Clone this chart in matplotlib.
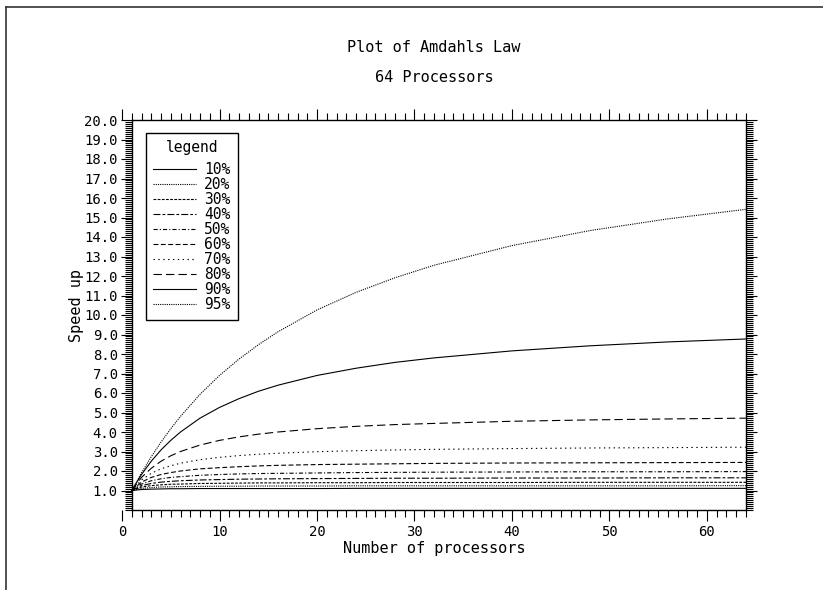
import matplotlib
matplotlib.use("Agg")
import matplotlib.pyplot as plt
from matplotlib.ticker import MultipleLocator, FixedLocator, FixedFormatter
from matplotlib.lines import Line2D

plt.rcParams['font.family'] = ['DejaVu Sans Mono']
plt.rcParams['lines.scale_dashes'] = False

procs = [1, 2, 3, 4, 5, 6, 8, 10, 12, 14, 16, 20, 24, 28, 32, 40, 48, 56, 64]

labels = ["10%", "20%", "30%", "40%", "50%", "60%", "70%", "80%", "90%", "95%"]

s10 = [1.00, 1.05, 1.07, 1.08, 1.09, 1.09, 1.10, 1.10, 1.10, 1.10, 1.10, 1.10, 1.11, 1.11, 1.11, 1.11, 1.11, 1.11, 1.11]
s20 = [1.00, 1.11, 1.15, 1.18, 1.19, 1.20, 1.21, 1.22, 1.22, 1.23, 1.23, 1.23, 1.24, 1.24, 1.24, 1.24, 1.24, 1.24, 1.25]
s30 = [1.00, 1.18, 1.25, 1.29, 1.32, 1.33, 1.36, 1.37, 1.38, 1.39, 1.39, 1.40, 1.40, 1.41, 1.41, 1.41, 1.42, 1.42, 1.42]
s40 = [1.00, 1.25, 1.36, 1.43, 1.47, 1.50, 1.54, 1.56, 1.58, 1.59, 1.60, 1.61, 1.62, 1.63, 1.63, 1.64, 1.64, 1.65, 1.65]
s50 = [1.00, 1.33, 1.50, 1.60, 1.67, 1.71, 1.78, 1.82, 1.85, 1.87, 1.88, 1.90, 1.92, 1.93, 1.94, 1.95, 1.96, 1.96, 1.97]
s60 = [1.00, 1.43, 1.67, 1.82, 1.92, 2.00, 2.11, 2.17, 2.22, 2.26, 2.29, 2.33, 2.35, 2.37, 2.39, 2.41, 2.42, 2.43, 2.44]
s70 = [1.00, 1.54, 1.88, 2.11, 2.27, 2.40, 2.58, 2.70, 2.79, 2.86, 2.91, 2.99, 3.04, 3.08, 3.11, 3.15, 3.18, 3.20, 3.22]
s80 = [1.00, 1.67, 2.14, 2.50, 2.78, 3.00, 3.33, 3.57, 3.75, 3.89, 4.00, 4.17, 4.29, 4.38, 4.44, 4.55, 4.62, 4.67, 4.71]
s90 = [1.00, 1.82, 2.50, 3.08, 3.57, 4.00, 4.71, 5.26, 5.71, 6.09, 6.40, 6.90, 7.27, 7.57, 7.80, 8.16, 8.42, 8.62, 8.77]
s95 = [1.00, 1.90, 2.73, 3.48, 4.17, 4.80, 5.93, 6.90, 7.74, 8.48, 9.14, 10.26, 11.16, 11.91, 12.55, 13.56, 14.33, 14.93, 15.42]

series = [s10, s20, s30, s40, s50, s60, s70, s80, s90, s95]
styles = ["-", (0, (0.8, 0.8)), (0, (2, 1)), (0, (5, 1.5, 2, 1.5)),
          (0, (3, 1.5, 0.8, 1.5)), (0, (3.5, 1.8)), (0, (1, 2.5)),
          (0, (6, 3)), "-", (0, (0.8, 0.8))]

y_ticks = list(range(1, 21))
y_labels = ["%.1f" % v for v in y_ticks]

fig = plt.figure(figsize=(8.23, 5.90), dpi=100)
ax = fig.add_axes([122 / 823, 80 / 590, 624 / 823, 390 / 590])

for vals, lab, ls in zip(series, labels, styles):
    ax.plot(procs, vals, color="black", lw=0.8, linestyle=ls, label=lab)

ax.set_xlim(0, 64)
ax.set_ylim(0, 20)

ax.spines['left'].set_position(('data', 1))
ax.spines['bottom'].set_bounds(1, 64)
ax.spines['top'].set_bounds(1, 64)
for sp in ax.spines.values():
    sp.set_linewidth(1.0)

ax.xaxis.set_major_locator(FixedLocator([0, 10, 20, 30, 40, 50, 60]))
ax.xaxis.set_minor_locator(MultipleLocator(1))
ax.yaxis.set_major_locator(FixedLocator(y_ticks))
ax.yaxis.set_major_formatter(FixedFormatter(y_labels))
ax.yaxis.set_minor_locator(MultipleLocator(0.1))

ax.tick_params(axis='both', which='both', direction='out', top=True, right=True,
               width=0.8, labelsize=10, colors='black')
ax.tick_params(axis='x', which='major', length=8, pad=3)
ax.tick_params(axis='x', which='minor', length=5)
ax.tick_params(axis='y', which='major', length=8, pad=2)
ax.tick_params(axis='y', which='minor', length=5)

fig.text(434 / 823, 1 - 47 / 590, "Plot of Amdahls Law", ha='center', va='center', fontsize=11)
fig.text(434 / 823, 1 - 77 / 590, "64 Processors", ha='center', va='center', fontsize=11)
fig.text(434 / 823, 1 - 549 / 590, "Number of processors", ha='center', va='center', fontsize=11)
fig.text(77 / 823, 1 - 306 / 590, "Speed up", ha='center', va='center', rotation=90, fontsize=11)

leg = ax.legend(title="legend", loc='upper left', bbox_to_anchor=(146 / 823, 1 - 133 / 590),
                bbox_transform=fig.transFigure, borderaxespad=0, fontsize=10.5,
                title_fontsize=10.5, handlelength=2.9, handletextpad=0.6,
                labelspacing=0.0, fancybox=False, framealpha=1, edgecolor='black',
                borderpad=0.5)
leg.get_frame().set_linewidth(1.0)
leg._legend_box.sep = 5  # extra gap under the title

# outer page frame
fig.add_artist(Line2D([6 / 823, 1], [1 - 7 / 590, 1 - 7 / 590], transform=fig.transFigure,
                      color='#333333', lw=1.2))
fig.add_artist(Line2D([6 / 823, 6 / 823], [0, 1 - 7 / 590], transform=fig.transFigure,
                      color='#333333', lw=1.2))

fig.savefig("out.png", dpi=100)
